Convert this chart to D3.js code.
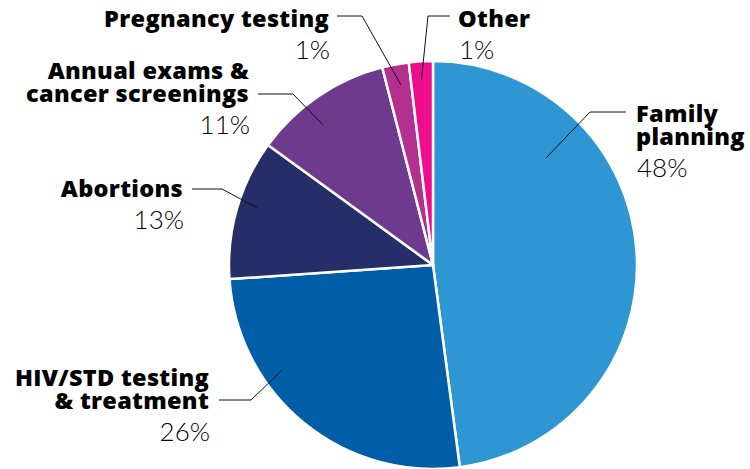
<!DOCTYPE html>
<html>
<head>
<meta charset="utf-8">
<script src="https://cdn.jsdelivr.net/npm/d3@7"></script>
<style>
  body { margin: 0; background: #fff; }
  text { font-family: "Open Sans", Lato, sans-serif; fill: #000; }
  .name { font-weight: 800; font-size: 23.5px; letter-spacing: 0.3px; }
  .pct { font-family: Lato, "Open Sans", sans-serif; font-weight: 300; font-size: 26px; }
</style>
</head>
<body>
<div id="chart"></div>
<script>
// slice shares as drawn (percent of the circle), printed labels, colours
var categories = ["Family planning", "HIV/STD testing & treatment", "Abortions", "Annual exams & cancer screenings", "Pregnancy testing", "Other"];
var shares = [47.9, 26.0, 11.1, 11.0, 2.1, 1.9];
var pctLabels = ["48%", "26%", "13%", "11%", "1%", "1%"];
var colors = ["#2e96d3", "#005ea8", "#262e6a", "#6e3a8e", "#b3308f", "#ec0c8c"];

// label layout: text lines, anchor side, text position, elbow of leader, where the leader enters the slice
var nameLines = [["Family", "planning"], ["HIV/STD testing", "& treatment"], ["Abortions"], ["Annual exams &", "cancer screenings"], ["Pregnancy testing"], ["Other"]];
var labelLayout = [
	{ anchor: "start", x: 636, y: 122, lineX: 626, elbowX: 590, elbowY: 112, frac: 0.27, r: 156 },
	{ anchor: "end", x: 209, y: 386, lineX: 219, elbowX: 251, elbowY: 400, frac: 0.67, r: 184 },
	{ anchor: "end", x: 183, y: 197, lineX: 192, elbowX: 222, elbowY: 189, frac: 0.55, r: 185 },
	{ anchor: "end", x: 249, y: 79, lineX: 258, elbowX: 293, elbowY: 94, frac: 0.4, r: 178 },
	{ anchor: "end", x: 329, y: 27, lineX: 337, elbowX: 362, elbowY: 16, frac: 0.57, r: 183 },
	{ anchor: "start", x: 458, y: 27, lineX: 450, elbowX: 428, elbowY: 16, frac: 0.48, r: 186 }
];

var width = 750, height = 469;
var cx = 433, cy = 265, radius = 204;
var lineGap = 23;

var svg = d3.select("#chart")
	.append("svg")
	.attr("width", width)
	.attr("height", height);

var data = categories.map(function (c, i) { return { name: c, value: shares[i], i: i }; });

var pie = d3.pie()
	.sort(null)
	.value(function (d) { return d.value; });

var arc = d3.arc()
	.innerRadius(0)
	.outerRadius(radius);

var arcs = pie(data);

var g = svg.append("g")
	.attr("transform", "translate(" + cx + "," + cy + ")");

g.selectAll("path")
	.data(arcs)
	.enter()
	.append("path")
	.attr("d", arc)
	.attr("fill", function (d) { return colors[d.data.i]; })
	.attr("stroke", "#fff")
	.attr("stroke-width", 2.5)
	.attr("stroke-linejoin", "round");

// leader lines
svg.selectAll(".leader")
	.data(arcs)
	.enter()
	.append("polyline")
	.attr("class", "leader")
	.attr("fill", "none")
	.attr("stroke", "#111")
	.attr("stroke-width", 1)
	.attr("points", function (d) {
		var L = labelLayout[d.data.i];
		var a = d.startAngle + (d.endAngle - d.startAngle) * L.frac;
		var p = d3.pointRadial(a, L.r);
		return [[L.lineX, L.elbowY], [L.elbowX, L.elbowY], [cx + p[0], cy + p[1]]].join(" ");
	});

// labels
arcs.forEach(function (d) {
	var i = d.data.i, L = labelLayout[i];
	var t = svg.append("text")
		.attr("text-anchor", L.anchor);
	nameLines[i].forEach(function (line, k) {
		t.append("tspan")
			.attr("class", "name")
			.attr("x", L.x)
			.attr("y", L.y + k * lineGap)
			.text(line);
	});
	t.append("tspan")
		.attr("class", "pct")
		.attr("x", L.x + 1)
		.attr("y", L.y + (nameLines[i].length - 1) * lineGap + 32)
		.text(pctLabels[i]);
});
</script>
</body>
</html>
